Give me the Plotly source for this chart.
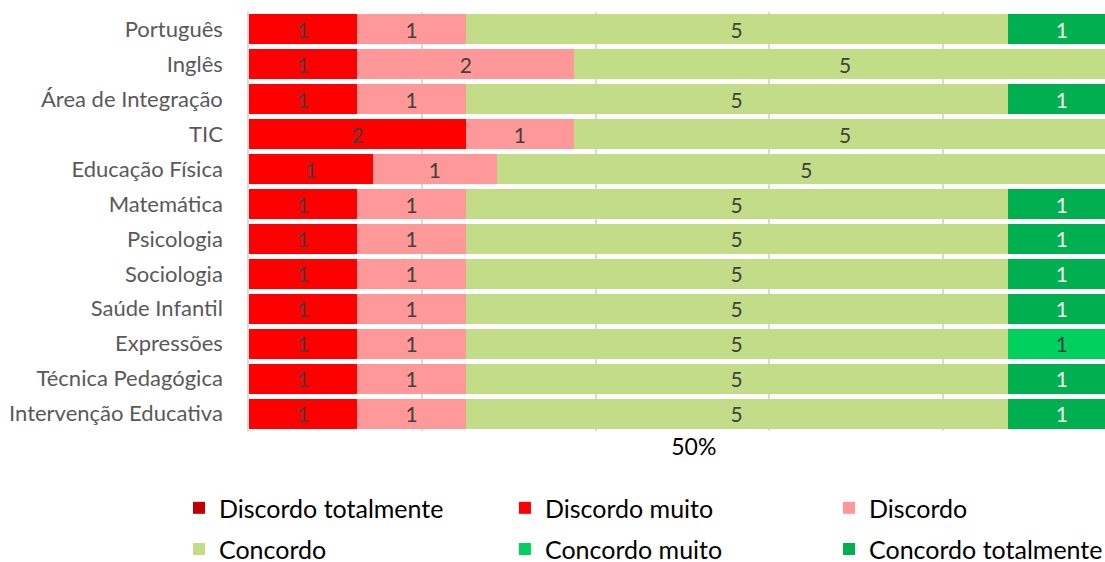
import plotly.graph_objects as go

categories = ["Português", "Inglês", "Área de Integração", "TIC", "Educação Física",
              "Matemática", "Psicologia", "Sociologia", "Saúde Infantil", "Expressões",
              "Técnica Pedagógica", "Intervenção Educativa"]

discordo_totalmente = [0, 0, 0, 0, 0, 0, 0, 0, 0, 0, 0, 0]
discordo_muito = [1, 1, 1, 2, 1, 1, 1, 1, 1, 1, 1, 1]
discordo = [1, 2, 1, 1, 1, 1, 1, 1, 1, 1, 1, 1]
concordo = [5, 5, 5, 5, 5, 5, 5, 5, 5, 5, 5, 5]
concordo_muito = [0, 0, 0, 0, 0, 0, 0, 0, 0, 1, 0, 0]
concordo_totalmente = [1, 0, 1, 0, 0, 1, 1, 1, 1, 0, 1, 1]

series_names = ["Discordo totalmente", "Discordo muito", "Discordo",
                "Concordo", "Concordo muito", "Concordo totalmente"]
series_values = [discordo_totalmente, discordo_muito, discordo,
                 concordo, concordo_muito, concordo_totalmente]
series_colors = ["#C00000", "#FF0000", "#FF9999", "#C3DC87", "#00D05E", "#00B050"]
text_colors = ["#404040", "#404040", "#404040", "#404040", "#404040", "#F2F2F2"]

x_tick_values = [0.513]
x_tick_labels = ["50%"]

FONT = "Lato"

# legend slots: one single-item legend per series (3 columns x 2 rows)
legend_ids = ["legend", "legend2", "legend3", "legend4", "legend5", "legend6"]
legend_cols = [-0.0818, 0.299, 0.6776]
legend_rows = [-0.184, -0.282]

fig = go.Figure()
for name, vals, col, tcol, lg in zip(series_names, series_values, series_colors,
                                     text_colors, legend_ids):
    fig.add_trace(go.Bar(
        y=categories, x=vals, name=name, orientation="h",
        marker=dict(color=col, line=dict(width=0)),
        text=[str(v) if v else "" for v in vals],
        texttemplate="%{text}",
        textposition="inside", insidetextanchor="middle", textangle=0,
        constraintext="none",
        textfont=dict(family=FONT, size=21, color=tcol),
        legend=lg,
        hoverinfo="skip",
    ))

legend_layout = {}
for i, lg in enumerate(legend_ids):
    legend_layout[lg] = dict(
        orientation="h", xanchor="left", yanchor="middle",
        x=legend_cols[i % 3], y=legend_rows[i // 3],
        font=dict(family=FONT, size=25, color="#000000"),
        bgcolor="rgba(0,0,0,0)",
    )

fig.update_layout(
    width=1105, height=562,
    margin=dict(l=249, r=0, t=12, b=131, autoexpand=False),
    barmode="stack", barnorm="fraction", bargap=0.14,
    paper_bgcolor="white", plot_bgcolor="white",
    font=dict(family=FONT),
    showlegend=True,
    xaxis=dict(
        range=[0, 0.9873],
        tickvals=x_tick_values, ticktext=x_tick_labels,
        showgrid=False, zeroline=False, showline=False, ticks="",
        tickfont=dict(family=FONT, size=23, color="#000000"),
        minor=dict(dtick=0.2, tick0=0, showgrid=True, gridcolor="#D9D9D9",
                   gridwidth=1.5, ticks=""),
        fixedrange=True,
    ),
    yaxis=dict(
        autorange="reversed",
        showline=True, linecolor="#D9D9D9", linewidth=1.5,
        showgrid=False, ticks="",
        tickfont=dict(family=FONT, size=22, color="#595959"),
        ticklabelstandoff=20,
        fixedrange=True,
    ),
    **legend_layout,
)

fig.write_html(
    "out.html",
    config={"displayModeBar": False},
    post_script="document.body.style.margin='0';document.body.style.overflow='hidden';",
)
